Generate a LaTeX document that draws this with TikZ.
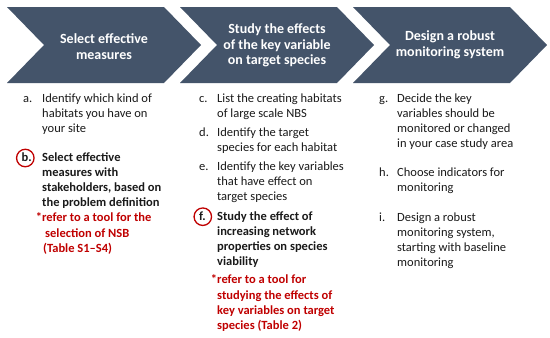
\documentclass[tikz,border=0pt]{standalone}
\usepackage{fontspec}
\setmainfont{Carlito}
\definecolor{chevfill}{HTML}{44546A}
\definecolor{notered}{HTML}{C00000}
\definecolor{bodytext}{HTML}{1A1A1A}
\begin{document}
\begin{tikzpicture}[x=1pt,y=-1pt,
 chevtext/.style={text=white, font=\fontsize{14}{15.5}\selectfont\bfseries, align=center, inner sep=0},
 body/.style={anchor=north west, inner sep=0, align=left, text=bodytext, font=\fontsize{12.5}{15}\selectfont},
 bodybold/.style={body, font=\fontsize{12.5}{15}\selectfont\bfseries},
 note/.style={body, text=notered, font=\fontsize{12.5}{15.2}\selectfont\bfseries},
 ring/.style={circle, draw=notered, line width=1.3pt, minimum size=17.5pt, inner sep=0},
 chev/.pic={\fill[chevfill] (0,7) -- (157,7) -- (194,45) -- (157,83) -- (0,83) -- (37,45) -- cycle;}
]
\fill[white] (0,0) rectangle (550,338);
\useasboundingbox (0,0) rectangle (550,338);

% chevrons
\pic at (7,0) {chev};
\pic at (180,0) {chev};
\pic at (353,0) {chev};
\node[chevtext] (h1) at (104,46.5) {Select effective\\measures};
\node[chevtext] (h2) at (277,45.5) {Study the effects\\of the key variable\\on target species};
\node[chevtext] (h3) at (450,45) {Design a robust\\monitoring system};

% column 1
\node[body] (la) at (23,91.4) {\strut a.};
\node[body] (ta) at (42,91.4) {\strut Identify which kind of\\habitats you have on\\your site};
\node[bodybold] (lb) at (21.5,150.8) {\strut b.};
\node[ring] (rb) at (25.3,158) {};
\node[bodybold] (tb) at (42,150.8) {\strut Select effective\\measures with\\stakeholders, based on\\the problem definition};
\node[note] (nb) at (42,211.1) {\strut\llap{*}refer to a tool for the\\\hspace*{3pt}selection of NSB\\\hspace*{1pt}(Table S1--S4)};

% column 2
\node[body] (lc) at (199,92.1) {\strut c.};
\node[body] (tc) at (217,92.1) {\strut List the creating habitats\\of large scale NBS};
\node[body] (ld) at (199,126.1) {\strut d.};
\node[body] (td) at (217,126.1) {\strut Identify the target\\species for each habitat};
\node[body] (le) at (199,160.1) {\strut e.};
\node[body] (te) at (217,160.1) {\strut Identify the key variables\\that have effect on\\target species};
\node[bodybold] (lf) at (199,210.1) {\strut f.};
\node[ring] (rf) at (202.8,216.7) {};
\node[bodybold] (tf) at (217,210.1) {\strut Study the effect of\\increasing network\\properties on species\\viability};
\node[note] (nf) at (217,273.1) {\strut\llap{*}refer to a tool for\\studying the effects of\\key variables on target\\species (Table 2)};

% column 3
\node[body] (lg) at (379,92.1) {\strut g.};
\node[body] (tg) at (397,92.1) {\strut Decide the key\\variables should be\\monitored or changed\\in your case study area};
\node[body] (lh) at (379,166.1) {\strut h.};
\node[body] (th) at (397,166.1) {\strut Choose indicators for\\monitoring};
\node[body] (li) at (379,211.1) {\strut i.};
\node[body] (ti) at (397,211.1) {\strut Design a robust\\monitoring system,\\starting with baseline\\monitoring};
\end{tikzpicture}
\end{document}
